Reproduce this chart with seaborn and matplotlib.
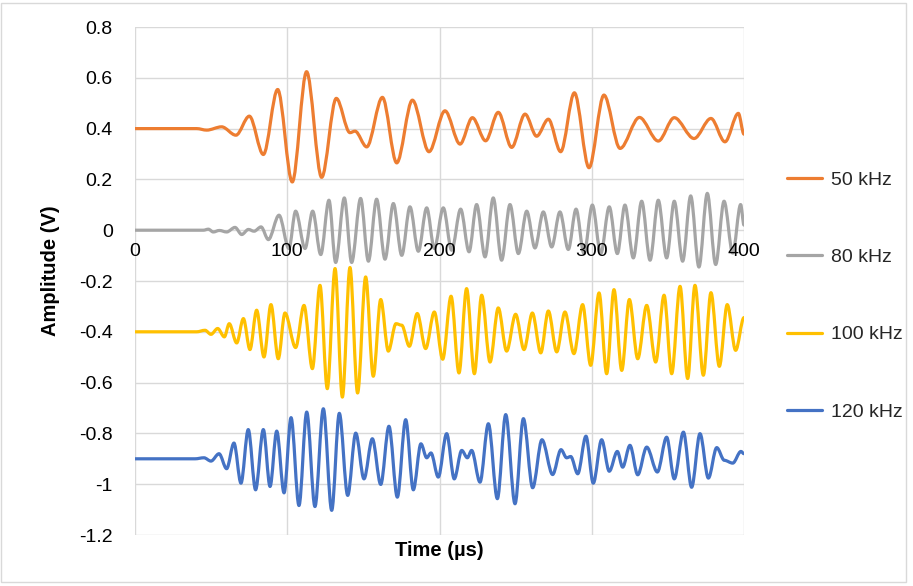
import matplotlib
matplotlib.use("Agg")
import matplotlib.pyplot as plt
from matplotlib.path import Path
from matplotlib.patches import PathPatch, Rectangle
from matplotlib.lines import Line2D
import seaborn as sns

# Waveform turning points: time (µs) and amplitude (V) for each excitation frequency
time_50 = [0, 40.5, 47.1, 56.9, 66.3, 75.1, 84.3, 93.7, 103.3, 112.7,
           122.6, 132.2, 141.2, 144.5, 152.2, 162.5, 171.9, 182.2, 193.1, 203.6,
           213.5, 221.6, 230.3, 238.6, 247.4, 256.2, 263.8, 271.5, 279.6, 288.6,
           298.2, 308.0, 318.6, 331.3, 343.7, 354.2, 367.2, 378.3, 387.5, 396.3,
           400]
amp_50 = [0.400, 0.400, 0.394, 0.407, 0.374, 0.449, 0.298, 0.554, 0.190, 0.624,
          0.208, 0.519, 0.384, 0.390, 0.328, 0.523, 0.265, 0.512, 0.309, 0.470,
          0.339, 0.443, 0.352, 0.464, 0.326, 0.457, 0.370, 0.437, 0.309, 0.541,
          0.246, 0.532, 0.322, 0.444, 0.351, 0.443, 0.361, 0.440, 0.348, 0.460,
          0.378]

time_80 = [0, 44.9, 48.2, 51.4, 55.4, 60.2, 65.7, 70.1, 74.5, 78.2,
           82.8, 87.6, 94.6, 101.1, 105.5, 111.7, 116.7, 122.0, 127.4, 131.8,
           137.5, 142.3, 148.2, 153.3, 158.7, 164.2, 169.7, 175.2, 180.6, 186.1,
           191.6, 196.6, 202.5, 208.0, 213.9, 219.4, 224.4, 229.9, 235.3, 240.8,
           246.3, 251.8, 257.3, 262.7, 268.2, 273.7, 279.1, 284.6, 289.7, 294.9,
           300.4, 305.9, 311.5, 316.8, 321.8, 327.3, 332.8, 338.3, 343.7, 349.2,
           354.2, 359.7, 365.0, 370.4, 375.9, 381.4, 386.9, 392.6, 397.8, 400]
amp_80 = [0, 0, 0.004, -0.007, -0.001, -0.007, 0.011, -0.017, 0.003, -0.004,
          0.013, -0.037, 0.059, -0.072, 0.075, -0.072, 0.075, -0.096, 0.118, -0.127,
          0.127, -0.127, 0.125, -0.122, 0.122, -0.114, 0.105, -0.099, 0.092, -0.083,
          0.088, -0.072, 0.088, -0.079, 0.083, -0.085, 0.101, -0.105, 0.127, -0.118,
          0.101, -0.092, 0.075, -0.070, 0.072, -0.066, 0.072, -0.076, 0.083, -0.092,
          0.099, -0.092, 0.092, -0.092, 0.099, -0.109, 0.114, -0.118, 0.118, -0.109,
          0.114, -0.122, 0.135, -0.145, 0.145, -0.135, 0.114, -0.090, 0.101, 0.020]

time_100 = [0, 40.5, 46.0, 49.9, 54.3, 58.7, 61.9, 66.8, 71.2, 75.5,
            79.9, 84.7, 89.3, 94.1, 98.5, 105.5, 111.0, 116.5, 121.5, 126.3,
            131.4, 136.2, 141.2, 146.2, 151.5, 156.5, 161.4, 166.4, 171.4, 175.2,
            180.2, 185.4, 190.9, 196.6, 202.1, 207.6, 212.8, 217.8, 222.9, 227.7,
            233.2, 238.6, 244.1, 250.0, 255.5, 261.0, 266.5, 271.5, 277.0, 282.4,
            288.3, 294.0, 299.3, 304.8, 309.8, 314.6, 319.7, 324.7, 330.2, 336.1,
            342.0, 347.5, 352.5, 358.0, 363.0, 367.8, 373.3, 378.3, 383.8, 389.0,
            394.5, 400]
amp_100 = [-0.400, -0.400, -0.394, -0.410, -0.387, -0.420, -0.368, -0.444, -0.348, -0.470,
           -0.315, -0.499, -0.293, -0.506, -0.326, -0.462, -0.296, -0.545, -0.217, -0.624,
           -0.151, -0.657, -0.147, -0.641, -0.184, -0.575, -0.273, -0.476, -0.368, -0.374,
           -0.457, -0.328, -0.466, -0.322, -0.508, -0.260, -0.562, -0.230, -0.565, -0.256,
           -0.519, -0.306, -0.476, -0.331, -0.470, -0.326, -0.483, -0.318, -0.479, -0.322,
           -0.486, -0.293, -0.532, -0.247, -0.565, -0.234, -0.552, -0.273, -0.506, -0.296,
           -0.519, -0.256, -0.565, -0.221, -0.584, -0.217, -0.571, -0.246, -0.536, -0.293,
           -0.473, -0.344]

time_120 = [0, 39.4, 45.3, 49.9, 55.2, 60.2, 65.0, 69.6, 74.4, 79.2,
            84.3, 88.7, 93.1, 97.9, 102.5, 107.7, 112.8, 118.2, 123.7, 129.2,
            134.2, 139.7, 145.0, 150.4, 155.9, 161.4, 166.8, 172.3, 177.8, 182.8,
            187.8, 191.6, 194.4, 199.2, 204.7, 209.7, 214.6, 218.3, 221.1, 226.6,
            232.1, 238.0, 243.5, 249.6, 255.1, 261.2, 267.3, 274.3, 279.8, 283.5,
            286.2, 290.8, 296.2, 301.0, 306.5, 311.5, 316.8, 320.3, 325.1, 330.2,
            336.1, 343.1, 349.2, 354.2, 360.2, 365.6, 371.1, 376.6, 382.1, 387.1,
            392.6, 398.0, 400]
amp_120 = [-0.900, -0.900, -0.896, -0.909, -0.880, -0.939, -0.838, -0.996, -0.785, -1.022,
           -0.785, -1.009, -0.791, -1.034, -0.738, -1.084, -0.716, -1.088, -0.703, -1.103,
           -0.721, -1.044, -0.799, -0.979, -0.821, -1.001, -0.772, -1.051, -0.746, -1.022,
           -0.841, -0.896, -0.877, -0.972, -0.801, -0.979, -0.867, -0.896, -0.867, -0.992,
           -0.762, -1.057, -0.726, -1.077, -0.742, -1.014, -0.825, -0.962, -0.864, -0.896,
           -0.891, -0.959, -0.811, -0.996, -0.825, -0.949, -0.871, -0.933, -0.847, -0.963,
           -0.854, -0.952, -0.815, -0.979, -0.795, -1.012, -0.801, -0.976, -0.856, -0.906,
           -0.917, -0.871, -0.880]

series_labels = ["50 kHz", "80 kHz", "100 kHz", "120 kHz"]
series_colors = ["#ED7D31", "#A5A5A5", "#FFC000", "#4472C4"]
x_ticks = [0, 100, 200, 300, 400]
y_ticks = [0.8, 0.6, 0.4, 0.2, 0.0, -0.2, -0.4, -0.6, -0.8, -1.0, -1.2]
y_tick_labels = ["0.8", "0.6", "0.4", "0.2", "0", "-0.2", "-0.4", "-0.6",
                 "-0.8", "-1", "-1.2"]

sns.set_theme(style="white")
plt.rcParams["font.family"] = ["Liberation Sans", "DejaVu Sans"]

W, H = 913, 586
fig = plt.figure(figsize=(W / 100, H / 100), dpi=100)
ax = fig.add_axes([135 / W, 51 / H, 609 / W, 508 / H])
palette = sns.color_palette(series_colors)


def smooth_path(t, v):
    """Smoothed line through the turning points (flat tangent at each point)."""
    verts = [(t[0], v[0])]
    codes = [Path.MOVETO]
    for i in range(len(t) - 1):
        d = (t[i + 1] - t[i]) / 3.0
        verts += [(t[i] + d, v[i]), (t[i + 1] - d, v[i + 1]), (t[i + 1], v[i + 1])]
        codes += [Path.CURVE4] * 3
    return Path(verts, codes)


grid_color = "#D9D9D9"
for yv in y_ticks:
    ax.axhline(yv, color=grid_color, lw=1.0, zorder=0.5)
for xv in x_ticks:
    ax.axvline(xv, color=grid_color, lw=1.0, zorder=0.5)

all_series = [(time_50, amp_50), (time_80, amp_80), (time_100, amp_100), (time_120, amp_120)]
for (t, v), col in zip(all_series, palette):
    ax.add_patch(PathPatch(smooth_path(t, v), facecolor="none", edgecolor=col,
                           lw=2.3, capstyle="round", joinstyle="round", zorder=2))

ax.set_xlim(0, 400)
ax.set_ylim(-1.2, 0.8)
ax.set_xticks(x_ticks)
ax.set_xticklabels([str(x) for x in x_ticks])
ax.set_yticks(y_ticks)
ax.set_yticklabels(y_tick_labels)
ax.set_axisbelow(False)
for s in ax.spines.values():
    s.set_visible(False)
ax.spines["bottom"].set_position(("data", 0))
ax.tick_params(axis="x", length=0, pad=9, labelsize=14, labelcolor="black")
ax.tick_params(axis="y", length=0, pad=16, labelsize=14, labelcolor="black")
ax.grid(False)

fig.text(50 / W, 1 - 271 / H, "Amplitude (V)", rotation=90, ha="center", va="center",
         fontsize=14.5, fontweight="bold", color="black")
fig.text(439.5 / W, 1 - 551 / H, "Time (µs)", ha="center", va="center",
         fontsize=14.5, fontweight="bold", color="black")

handles = [Line2D([0], [0], color=c, lw=2.3) for c in palette]
fig.legend(handles, series_labels, loc="center left",
           bbox_to_anchor=(787 / W, 1 - 296 / H), frameon=False, fontsize=14,
           handlelength=1.8, handletextpad=0.45, labelspacing=3.07,
           borderpad=0, borderaxespad=0)

fig.patches.append(Rectangle((0.5 / W, 1 - 582 / H), 905.5 / W, 579 / H,
                             transform=fig.transFigure, fill=False,
                             edgecolor=grid_color, lw=1.0))

fig.savefig("out.png", dpi=100)
